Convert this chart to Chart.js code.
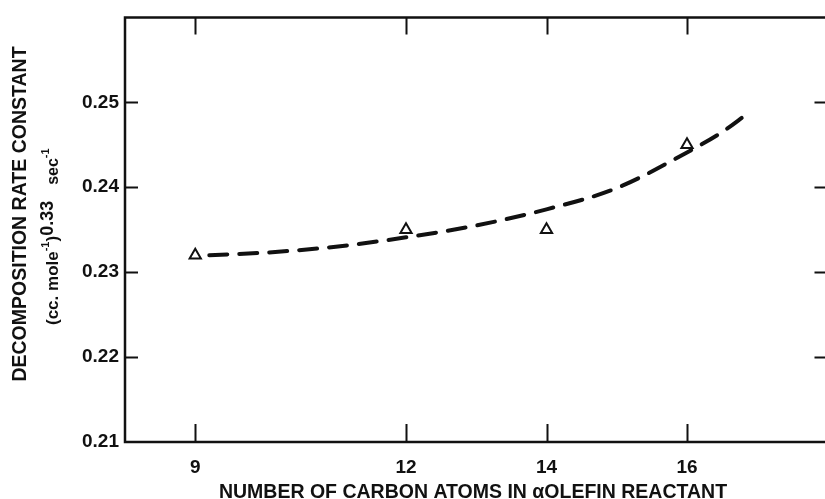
<!DOCTYPE html>
<html>
<head>
<meta charset="utf-8">
<script src="https://cdn.jsdelivr.net/npm/chart.js@4/dist/chart.umd.min.js"></script>
<style>
  html, body { margin: 0; padding: 0; background: #fff; overflow: hidden; }
  #wrap { position: relative; width: 836px; height: 499px; }
</style>
</head>
<body>
<div id="wrap"><canvas id="chart"></canvas></div>
<script>
// Measured rate constants for each alpha-olefin chain length
const carbonAtoms = [9, 12, 14, 16];
const rateConstant = [0.232, 0.235, 0.235, 0.245];

// Dashed trend curve through the measurements
const curveCarbon = [9.2, 10, 11, 12, 13, 14, 15, 16, 16.5, 16.85];
const curveRate = [0.2320, 0.2323, 0.2330, 0.2341, 0.2355, 0.2374, 0.2399, 0.2441, 0.2465, 0.2486];

// Axis ticks
const xTicks = [9, 12, 14, 16];
const yTicks = [0.21, 0.22, 0.23, 0.24, 0.25];
const yTickLabels = ['0.21', '0.22', '0.23', '0.24', '0.25'];

const INK = '#111';
const FONT = '"Liberation Sans", Arial, Helvetica, sans-serif';

// Frame, inward tick marks and axis titles
const framePlugin = {
  id: 'frame',
  afterDraw(chart) {
    const { ctx, chartArea: a, scales: { x, y } } = chart;
    ctx.save();
    ctx.strokeStyle = INK;
    ctx.lineCap = 'butt';

    ctx.lineWidth = 2.5;
    ctx.beginPath();
    ctx.moveTo(a.left, a.bottom);
    ctx.lineTo(a.left, a.top);
    ctx.lineTo(a.right, a.top);
    ctx.lineTo(a.right, a.bottom);
    ctx.closePath();
    ctx.stroke();

    ctx.lineWidth = 2;
    ctx.beginPath();
    x.ticks.forEach(t => {
      const px = Math.round(x.getPixelForValue(t.value)) + 0.5;
      ctx.moveTo(px, a.bottom); ctx.lineTo(px, a.bottom - 18);
      ctx.moveTo(px, a.top); ctx.lineTo(px, a.top + 17);
    });
    y.ticks.forEach(t => {
      if (t.value <= y.min) return;
      const py = Math.round(y.getPixelForValue(t.value)) + 0.5;
      ctx.moveTo(a.left, py); ctx.lineTo(a.left + 13, py);
      ctx.moveTo(a.right, py); ctx.lineTo(a.right - 13, py);
    });
    ctx.stroke();

    ctx.fillStyle = INK;
    ctx.textBaseline = 'alphabetic';

    // x-axis title
    ctx.font = 'bold 19.5px ' + FONT;
    ctx.textAlign = 'center';
    ctx.fillText('NUMBER OF CARBON ATOMS IN \u03B1OLEFIN REACTANT', 473, 498);

    // y-axis title, first line
    ctx.save();
    ctx.translate(26, 214);
    ctx.rotate(-Math.PI / 2);
    ctx.fillText('DECOMPOSITION RATE CONSTANT', 0, 0);
    ctx.restore();

    // y-axis title, unit line with exponents
    ctx.save();
    ctx.translate(58, 325);
    ctx.rotate(-Math.PI / 2);
    ctx.textAlign = 'left';
    const parts = [
      { t: '(cc. mole', size: 17, dy: 0 },
      { t: '-1', size: 11, dy: -9 },
      { t: ')', size: 17, dy: 0 },
      { t: '0.33', size: 18, dy: -5 },
      { t: ' ', size: 17, dy: 0, gap: 16 },
      { t: 'sec', size: 16, dy: 0 },
      { t: '-1', size: 11, dy: -9 }
    ];
    let cx = 0;
    parts.forEach(p => {
      ctx.font = 'bold ' + p.size + 'px ' + FONT;
      if (p.gap) { cx += p.gap; return; }
      ctx.fillText(p.t, cx, p.dy);
      cx += ctx.measureText(p.t).width;
    });
    ctx.restore();

    ctx.restore();
  }
};

new Chart(document.getElementById('chart'), {
  type: 'scatter',
  data: {
    datasets: [
      {
        label: 'trend',
        data: curveCarbon.map((c, i) => ({ x: c, y: curveRate[i] })),
        showLine: true,
        borderColor: INK,
        borderWidth: 4,
        borderDash: [18, 12],
        borderCapStyle: 'round',
        cubicInterpolationMode: 'monotone',
        pointRadius: 0,
        pointHoverRadius: 0,
        order: 2
      },
      {
        label: 'measured',
        data: carbonAtoms.map((c, i) => ({ x: c, y: rateConstant[i] })),
        showLine: false,
        pointStyle: 'triangle',
        pointRadius: 6.5,
        pointBorderWidth: 2,
        pointBackgroundColor: '#fff',
        pointBorderColor: INK,
        order: 1
      }
    ]
  },
  options: {
    responsive: true,
    maintainAspectRatio: false,
    devicePixelRatio: 1,
    animation: false,
    events: [],
    layout: { padding: { top: 10, left: 0, right: 0, bottom: 0 } },
    plugins: { legend: { display: false }, tooltip: { enabled: false }, title: { display: false } },
    scales: {
      x: {
        type: 'linear',
        min: 8,
        max: 18,
        afterBuildTicks: s => { s.ticks = xTicks.map(v => ({ value: v })); },
        afterFit: s => { s.height = 57; },
        grid: { display: false, drawTicks: false },
        border: { display: false },
        ticks: {
          color: INK,
          padding: 14,
          font: { family: FONT, size: 19, weight: 'bold' },
          callback: v => String(v)
        }
      },
      y: {
        type: 'linear',
        min: 0.21,
        max: 0.26,
        afterBuildTicks: s => { s.ticks = yTicks.map(v => ({ value: v })); },
        afterFit: s => { s.width = 125; },
        grid: { display: false, drawTicks: false },
        border: { display: false },
        ticks: {
          color: INK,
          padding: 6,
          font: { family: FONT, size: 19, weight: 'bold' },
          callback: v => yTickLabels[yTicks.findIndex(t => Math.abs(t - v) < 1e-9)]
        }
      }
    }
  },
  plugins: [framePlugin]
});
</script>
</body>
</html>
